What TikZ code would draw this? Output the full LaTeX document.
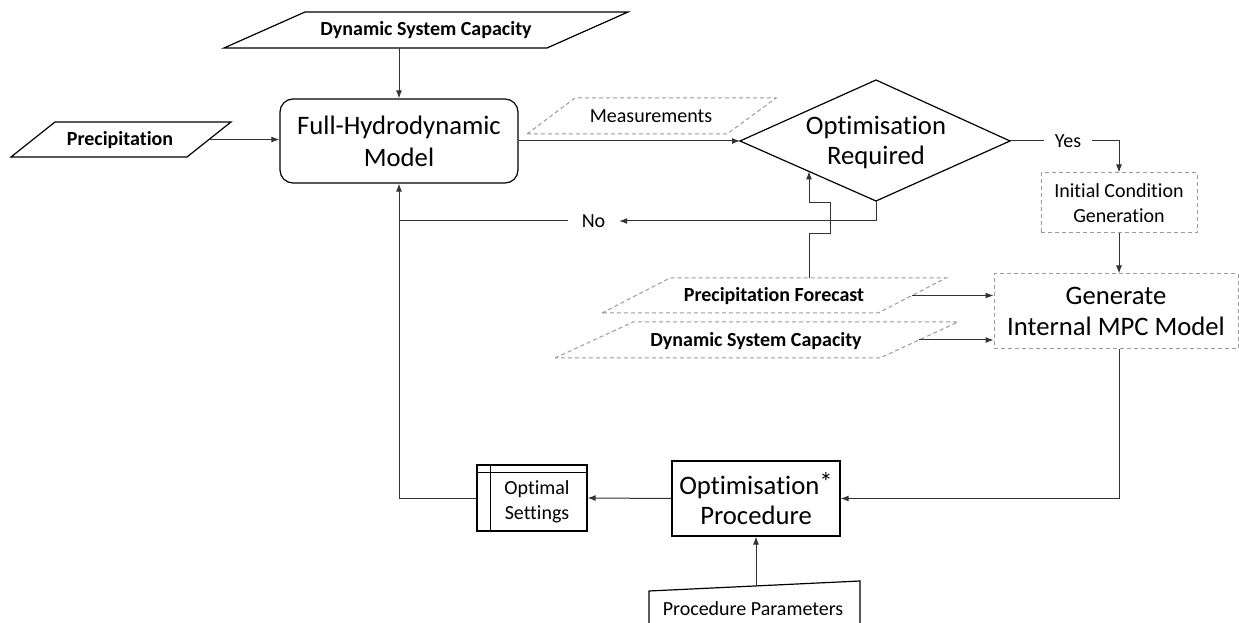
\documentclass[tikz,border=0pt]{standalone}
\usepackage{fontspec}
\setmainfont{Carlito}[Ligatures={NoCommon}]
\usetikzlibrary{arrows.meta}
\definecolor{ln}{HTML}{333333}
\definecolor{dg}{HTML}{9A9A9A}
\tikzset{
 big/.style={font=\fontsize{20}{23}\selectfont, align=center},
 small/.style={font=\fontsize{15}{18.75}\selectfont, align=center},
 bsmall/.style={font=\bfseries\fontsize{15}{18}\selectfont},
 solidshape/.style={draw=black, line width=0.9pt},
 dashshape/.style={draw=dg, line width=0.75pt, dash pattern=on 3pt off 2.25pt},
 conn/.style={draw=ln, line width=0.75pt},
 arr/.style={conn, -{Latex[length=6pt,width=4.5pt]}},
}
\begin{document}
\begin{tikzpicture}[x=0.75pt,y=-0.75pt]
\useasboundingbox (0,0) rectangle (1239,623);

% Dynamic System Capacity (top)
\draw[solidshape] (224,48) -- (305,12) -- (628,12) -- (547,48) -- cycle;
\node[bsmall] (dsctop) at (426,30) {Dynamic System Capacity};
\coordinate (dsctopb) at (399,48);

% Precipitation
\draw[solidshape] (11,157) -- (55,122) -- (231,122) -- (187,157) -- cycle;
\node[bsmall] (prec) at (120,140) {Precipitation};
\coordinate (precR) at (209,139.5);

% Full-Hydrodynamic Model
\node[solidshape, rounded corners=9.75pt, minimum width=178.5pt, minimum height=63pt, align=center, font=\fontsize{20}{24}\selectfont] (fhm) at (399,141) {Full-Hydrodynamic\\Model};

% Measurements
\draw[dashshape] (527,134) -- (575,98) -- (776,98) -- (727,134) -- cycle;
\node[small] (meas) at (651,116) {Measurements};

% Decision diamond
\coordinate (dL) at (740,141);
\coordinate (dT) at (876,80);
\coordinate (dR) at (1010,141);
\coordinate (dB) at (876,201);
\draw[solidshape] (dL) -- (dT) -- (dR) -- (dB) -- cycle;
\node[align=center, font=\fontsize{20}{22.5}\selectfont] (opt) at (876,142) {Optimisation\\Required};

% Initial condition generation
\node[dashshape, small, minimum width=117pt, minimum height=45pt] (icg) at (1119,203) {Initial Condition\\Generation};

% Yes branch
\node[small, inner xsep=8pt] (yes) at (1068,141) {Yes};
\draw[conn] (dR) -- (yes.west);
\draw[arr] (yes.east) -| (icg.north);

% Generate internal MPC model
\node[dashshape, align=center, font=\fontsize{20}{23}\selectfont, minimum width=183pt, minimum height=56.25pt] (gen) at (1116,311.5) {Generate\\Internal MPC Model};
\draw[arr] (icg.south) -- (icg.south |- gen.north);

% Precipitation Forecast
\draw[dashshape] (602,313) -- (670,278) -- (946,278) -- (878,313) -- cycle;
\node[bsmall] (pf) at (774,296) {Precipitation Forecast};
\coordinate (pfR) at (912,295.5);
\coordinate (pfT) at (809,278);
\draw[arr] (pfR) -- (gen.west |- pfR);

% Dynamic System Capacity (dashed)
\draw[dashshape] (555,358) -- (633,322) -- (958,322) -- (880,358) -- cycle;
\node[bsmall] (dsc2) at (756,341) {Dynamic System Capacity};
\coordinate (dsc2R) at (919,340);
\draw[arr] (dsc2R) -- (gen.west |- dsc2R);

% Forecast to decision (with jog)
\coordinate (dE) at (809,171.4);
\draw[arr] (pfT) -- ++(0,-44) -- ++(21,0) -- ++(0,-31) -- ++(-21,0) -- (dE);

% No branch
\node[small, inner xsep=10.3pt] (no) at (593.5,221) {No};
\coordinate (jn) at (399,221);
\draw[arr] (dB) |- (no.east);
\draw[conn] (no.west) -- (jn);

% Optimisation procedure
\node[solidshape, align=center, font=\fontsize{20}{22.5}\selectfont, minimum width=126pt, minimum height=56.25pt] (op) at (756,498.5) {Optimisation\raisebox{0.12em}{*}\\Procedure};
\draw[arr] (icg.south |- gen.south) |- (op.east);

% Optimal settings
\node[solidshape, minimum width=82.5pt, minimum height=49.5pt] (os) at (532,498) {};
\draw[solidshape] ([xshift=10.5pt]os.north west) -- ([xshift=10.5pt]os.south west);
\draw[solidshape] ([yshift=-6pt]os.north west) -- ([yshift=-6pt]os.north east);
\node[small] (ostext) at (537,502) {Optimal\\Settings};
\draw[arr] (op.west) -- (os.east);
\draw[arr] (os.west) -| (fhm.south);

% Other inputs to the model
\draw[arr] (dsctopb) -- (fhm.north);
\draw[arr] (precR) -- (fhm.west |- precR);
\draw[arr] (fhm.east) -- (dL);

% Procedure parameters
\draw[solidshape] (649,626) -- (649,591) -- (860,581) -- (860,626);
\node[small] (pp) at (753,609) {Procedure Parameters};
\coordinate (ppT) at (756,586);
\draw[arr] (ppT) -- (op.south);
\end{tikzpicture}
\end{document}
